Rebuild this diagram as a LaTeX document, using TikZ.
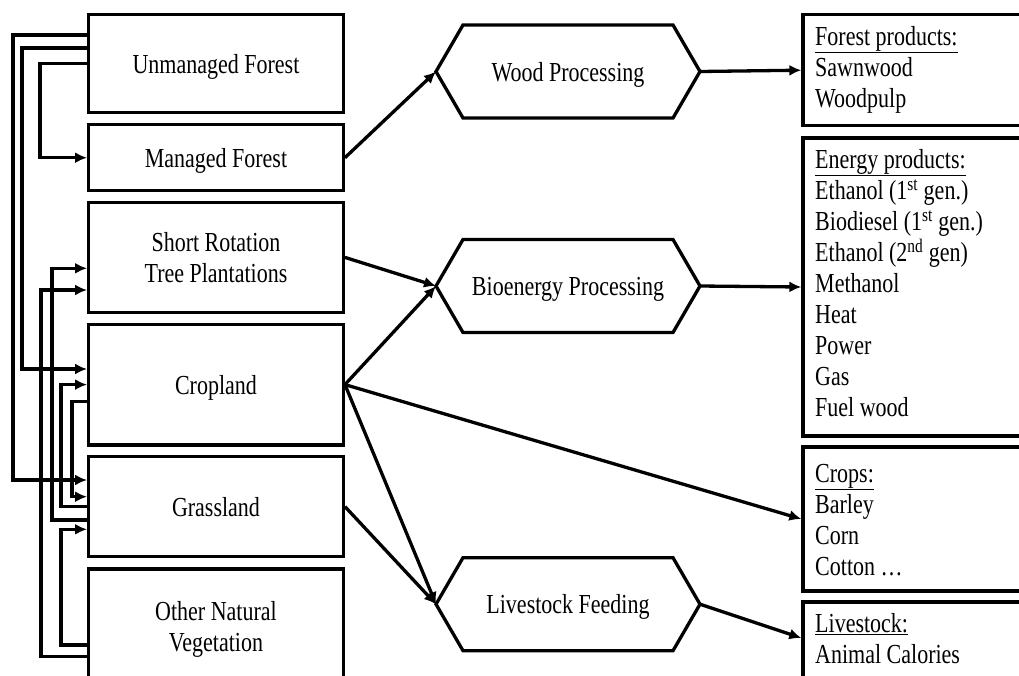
\documentclass[tikz,border=0pt]{standalone}
\usepackage{fontspec}
\setmainfont{Liberation Serif}[FakeStretch=0.8]
\usetikzlibrary{arrows.meta}
\newcommand\fz{\fontsize{27.5}{31}\selectfont}
\newcommand\hexdraw[1]{\draw[boxline] (#1.west) -- ([xshift=27pt]#1.north west) -- ([xshift=-27pt]#1.north east) -- (#1.east) -- ([xshift=-27pt]#1.south east) -- ([xshift=27pt]#1.south west) -- cycle;}
\begin{document}
\begin{tikzpicture}[x=1pt,y=-1pt,
  boxline/.style={draw, line width=3.3pt, line join=miter},
  lbox/.style={boxline, minimum width=254.6pt, inner sep=0pt, align=center, font=\fz, text depth=0pt},
  rbox/.style={boxline, minimum width=237pt, inner sep=0pt},
  hexa/.style={minimum width=264pt, minimum height=93pt, inner sep=0pt, outer sep=0pt, font=\fz, text depth=0pt},
  list/.style={anchor=north west, inner sep=0pt, align=left, font=\fz},
  arr/.style={line width=3.3pt, -{Latex[length=12pt,width=11pt]}}]
\useasboundingbox (0,0) rectangle (1019,675);
\clip (0,0) rectangle (1019,675);

% left boxes
\node[lbox, minimum height=97.8pt] (um) at (216,63.6) {Unmanaged Forest};
\node[lbox, minimum height=66pt] (mf) at (216,157.7) {Managed Forest};
\node[lbox, minimum height=110pt] (sr) at (216,257.4) {Short Rotation\\Tree Plantations};
\node[lbox, minimum height=120.8pt] (cr) at (216,384.6) {Cropland};
\node[lbox, minimum height=100pt] (gr) at (216,506.6) {Grassland};
\node[lbox, minimum height=114pt] (on) at (216,626) {Other Natural\\Vegetation};

% hexagons
\node[hexa] (wp) at (568,71.5) {Wood Processing};
\node[hexa] (bp) at (568,286) {Bioenergy Processing};
\node[hexa] (lf) at (568,604.2) {Livestock Feeding};
\hexdraw{wp}
\hexdraw{bp}
\hexdraw{lf}

% right boxes
\node[rbox, minimum height=111pt] (fp) at (921.5,70.2) {};
\node[rbox, minimum height=298pt] (ep) at (921.5,287) {};
\node[rbox, minimum height=144pt] (cb) at (921.5,519) {};
\node[rbox, minimum height=98pt] (lb) at (921.5,651) {};

\node[list] (fpt) at (815,23.3) {\strut\underline{Forest products:}\\Sawnwood\\Woodpulp};
\node[list] (ept) at (815,146.3) {\strut\underline{Energy products:}\\Ethanol (1\textsuperscript{st} gen.)\\Biodiesel (1\textsuperscript{st} gen.)\\Ethanol (2\textsuperscript{nd} gen)\\Methanol\\Heat\\Power\\Gas\\Fuel wood};
\node[list] (cbt) at (815,460.3) {\strut\underline{Crops:}\\Barley\\Corn\\Cotton …};
\node[list] (lbt) at (815,610.3) {\strut\underline{Livestock:}\\Animal Calories};

% connectors to processing
\draw[arr] (mf.east) -- (wp.west);
\draw[arr] (sr.east) -- (bp.west);
\draw[arr] (cr.east) -- (bp.west);
\draw[arr] (cr.east) -- (lf.west);
\draw[arr] (cr.east) -- (cb.west);
\draw[arr] (gr.east) -- (lf.west);
\draw[arr] (wp.east) -- (fp.west);
\draw[arr] (bp.east) -- (ep.west);
\draw[arr] (lf.east) -- ([yshift=13pt]lb.west);

% land transitions on the left
\draw[arr] ([yshift=28.6pt]um.west) -- ++(-74.2,0) |- ([yshift=26.6pt]gr.west);
\draw[arr] ([yshift=15.6pt]um.west) -- ++(-65.2,0) |- ([yshift=15.6pt]cr.west);
\draw[arr] (um.west) -- ++(-47.2,0) |- (mf.west);
\draw[arr] ([yshift=-17.1pt]cr.west) -- ++(-15.2,0) |- ([yshift=9.9pt]gr.west);
\draw[arr] (gr.west) -- ++(-26.2,0) |- (cr.west);
\draw[arr] ([yshift=-13.4pt]gr.west) -- ++(-35.2,0) |- ([yshift=-10.9pt]sr.west);
\draw[arr] ([yshift=-19pt]on.west) -- ++(-26.2,0) |- ([yshift=-22.7pt]gr.west);
\draw[arr] ([yshift=-30.7pt]on.west) -- ++(-46.2,0) |- ([yshift=-32.6pt]sr.west);
\end{tikzpicture}
\end{document}
